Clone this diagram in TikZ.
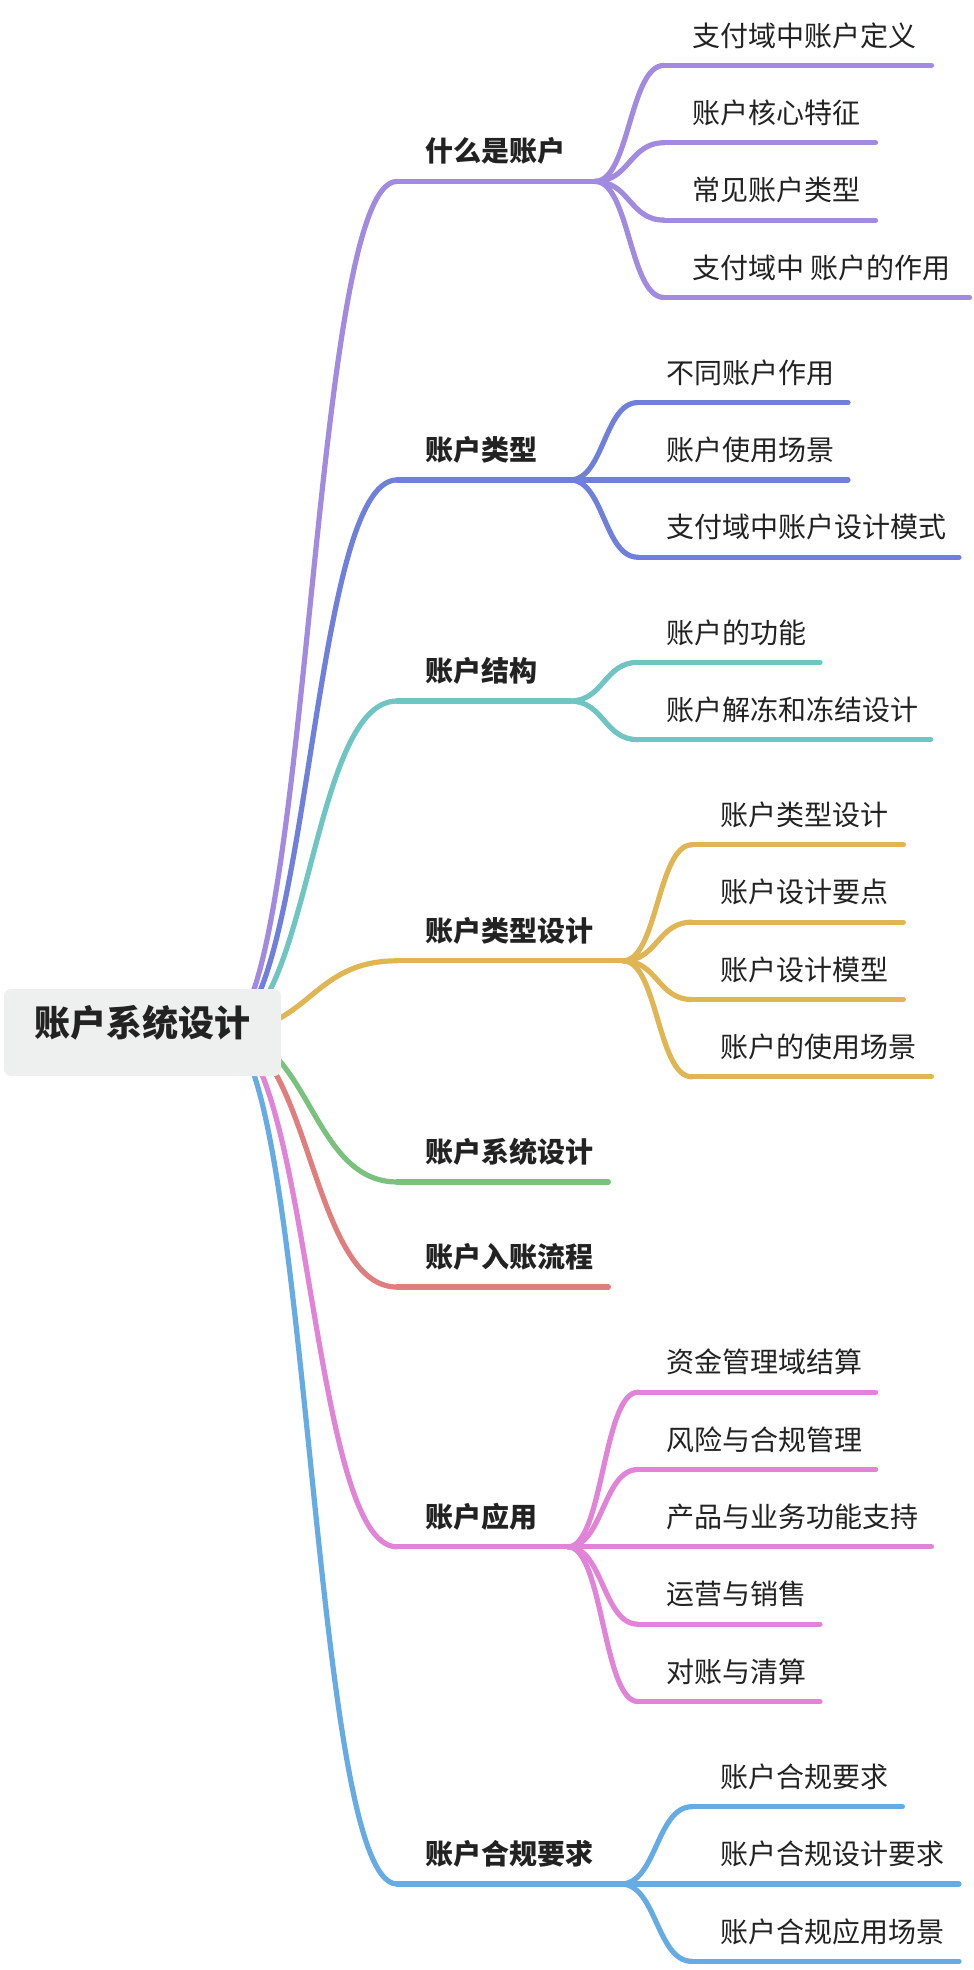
\documentclass[tikz,border=0pt]{standalone}
\usepackage{fontspec}
\setmainfont{Noto Sans CJK SC}
\usetikzlibrary{calc}
\definecolor{cA}{HTML}{A18AE0}
\definecolor{cB}{HTML}{6E80DC}
\definecolor{cC}{HTML}{6EC5C2}
\definecolor{cD}{HTML}{E0B655}
\definecolor{cE}{HTML}{78C27E}
\definecolor{cF}{HTML}{E07E7E}
\definecolor{cG}{HTML}{E183D6}
\definecolor{cH}{HTML}{66ABE3}
\definecolor{ink}{HTML}{222222}
\definecolor{rootfill}{HTML}{EEF0F0}
\newcommand\mmlink[3]{\draw[#1] let \p1=(#2), \p2=(#3) in (\p1) .. controls ({(\x1+\x2)/2},\y1) and ({(\x1+\x2)/2},\y2) .. (\p2);}
\newcommand\mmtopic[5]{%
  \coordinate (#2a) at (397,#3);
  \coordinate (#2b) at (#4,#3);
  \mmlink{lk=#1}{rs}{#2a}
  \draw[lk=#1] (#2a) -- (#2b);
  \node[ltopic] (#2t) at (425,#3-19.7) {#5};}
\newcommand\mmchild[8]{%
  \coordinate (#3s) at (#4,#6);
  \coordinate (#3e) at (#5,#6);
  \mmlink{lk=#1}{#2}{#3s}
  \draw[lk=#1] (#3s) -- (#3e);
  \node[lsub] (#3t) at (#7,#6-19.3) {#8};}
\begin{document}
\begin{tikzpicture}[x=1pt,y=-1pt,line cap=round,line join=round,
  lk/.style={line width=5.2pt,draw=#1},
  ltopic/.style={anchor=base west,inner sep=0pt,text=ink,font=\fontsize{28}{28}\selectfont\bfseries},
  lsub/.style={anchor=base west,inner sep=0pt,text=ink,font=\fontsize{28}{28}\selectfont},
  rootbox/.style={fill=rootfill,rounded corners=7pt,minimum width=277pt,minimum height=87pt,inner sep=0pt,text=ink,
    font=\fontsize{36}{36}\selectfont\bfseries,text height=0.83em,text depth=0.07em}]
\useasboundingbox (0,0) rectangle (974,1970);
\coordinate (rs) at (223,1032);
% group 1
\mmtopic{cA}{ga}{181.4}{595}{什么是账户}
\mmchild{cA}{gab}{ga1}{664}{931.5}{65.4}{692}{支付域中账户定义}
\mmchild{cA}{gab}{ga2}{664}{875.5}{142.75}{692}{账户核心特征}
\mmchild{cA}{gab}{ga3}{664}{875.5}{220.1}{692}{常见账户类型}
\mmchild{cA}{gab}{ga4}{664}{969.5}{297.45}{692}{支付域中 账户的作用}
% group 2
\mmtopic{cB}{gb}{479.9}{570}{账户类型}
\mmchild{cB}{gbb}{gb1}{638}{848}{402.55}{666}{不同账户作用}
\mmchild{cB}{gbb}{gb2}{638}{848}{479.9}{666}{账户使用场景}
\mmchild{cB}{gbb}{gb3}{638}{959}{557.25}{666}{支付域中账户设计模式}
% group 3
\mmtopic{cC}{gc}{701}{570}{账户结构}
\mmchild{cC}{gcb}{gc1}{638}{820}{662.35}{666}{账户的功能}
\mmchild{cC}{gcb}{gc2}{638}{930.7}{739.7}{666}{账户解冻和冻结设计}
% group 4
\mmtopic{cD}{gd}{960.8}{623}{账户类型设计}
\mmchild{cD}{gdb}{gd1}{692}{903.4}{844.8}{720}{账户类型设计}
\mmchild{cD}{gdb}{gd2}{692}{903.4}{922.15}{720}{账户设计要点}
\mmchild{cD}{gdb}{gd3}{692}{903.4}{999.5}{720}{账户设计模型}
\mmchild{cD}{gdb}{gd4}{692}{931.4}{1076.85}{720}{账户的使用场景}
% group 5, 6
\mmtopic{cE}{ge}{1181.95}{608.4}{账户系统设计}
\mmtopic{cF}{gf}{1287.05}{608.4}{账户入账流程}
% group 7
\mmtopic{cG}{gg}{1546.85}{568}{账户应用}
\mmchild{cG}{ggb}{gg1}{638}{875.7}{1392.15}{666}{资金管理域结算}
\mmchild{cG}{ggb}{gg2}{638}{875.7}{1469.5}{666}{风险与合规管理}
\mmchild{cG}{ggb}{gg3}{638}{931.4}{1546.85}{666}{产品与业务功能支持}
\mmchild{cG}{ggb}{gg4}{638}{820}{1624.2}{666}{运营与销售}
\mmchild{cG}{ggb}{gg5}{638}{820}{1701.55}{666}{对账与清算}
% group 8
\mmtopic{cH}{gh}{1884}{621}{账户合规要求}
\mmchild{cH}{ghb}{gh1}{692}{902.4}{1806.65}{720}{账户合规要求}
\mmchild{cH}{ghb}{gh2}{692}{959}{1884}{720}{账户合规设计要求}
\mmchild{cH}{ghb}{gh3}{692}{959}{1961.35}{720}{账户合规应用场景}
% root
\node[rootbox] (root) at (142.5,1032.5) {账户系统设计};
\end{tikzpicture}
\end{document}
